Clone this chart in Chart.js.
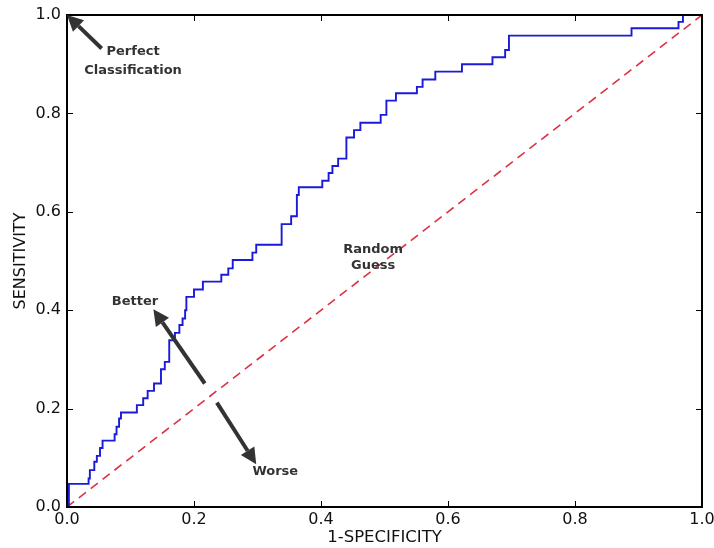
<!DOCTYPE html>
<html>
<head>
<meta charset="utf-8">
<script src="https://cdn.jsdelivr.net/npm/chart.js@4.4.1/dist/chart.umd.min.js"></script>
<style>
  body { margin: 0; background: #fff; }
</style>
</head>
<body>
<canvas id="roc" width="714" height="548"></canvas>
<script>
// ROC curve corners: x where the curve rises, y after the rise
const fpr = [0, 0.003, 0.034, 0.036, 0.043, 0.047, 0.052, 0.056, 0.075, 0.078, 0.082, 0.085,
  0.110, 0.120, 0.127, 0.137, 0.148, 0.154, 0.161, 0.170, 0.177, 0.182, 0.186, 0.188,
  0.200, 0.214, 0.243, 0.254, 0.261, 0.292, 0.298, 0.338, 0.353, 0.362, 0.365, 0.402,
  0.412, 0.418, 0.427, 0.440, 0.452, 0.462, 0.494, 0.503, 0.518, 0.551, 0.560, 0.580,
  0.622, 0.670, 0.690, 0.696, 0.889, 0.963, 0.970, 1.0];
const tpr = [0, 0.047, 0.058, 0.075, 0.092, 0.104, 0.120, 0.135, 0.148, 0.163, 0.180, 0.192,
  0.207, 0.221, 0.236, 0.251, 0.280, 0.295, 0.339, 0.354, 0.370, 0.383, 0.400, 0.427,
  0.442, 0.458, 0.472, 0.485, 0.502, 0.517, 0.533, 0.575, 0.591, 0.634, 0.650, 0.663,
  0.679, 0.693, 0.708, 0.751, 0.766, 0.781, 0.797, 0.826, 0.841, 0.854, 0.869, 0.885,
  0.900, 0.914, 0.929, 0.958, 0.973, 0.986, 1.0, 1.0];

const guessX = [0, 1];
const guessY = [0, 1];

const tickValues = [0, 0.2, 0.4, 0.6, 0.8, 1.0];

const noteTexts = ['Perfect', 'Classification', 'Random', 'Guess', 'Better', 'Worse'];
const noteX = [0.104, 0.104, 0.482, 0.482, 0.107, 0.328];
const noteY = [0.925, 0.886, 0.524, 0.490, 0.418, 0.071];

// arrows: tail -> tip in data units
const arrowFromX = [0.0546, 0.217, 0.236];
const arrowFromY = [0.932, 0.251, 0.212];
const arrowToX = [0, 0.136, 0.298];
const arrowToY = [1, 0.402, 0.087];

const ink = '#333333';

function toPoints(xs, ys) {
  return xs.map((x, i) => ({ x: x, y: ys[i] }));
}

const framePlugin = {
  id: 'frame',
  afterDatasetsDraw(chart) {
    const ctx = chart.ctx;
    const a = chart.chartArea;
    const xs = chart.scales.x, ys = chart.scales.y;
    ctx.save();
    // inward tick marks on all four sides
    ctx.strokeStyle = '#000';
    ctx.lineWidth = 1;
    tickValues.forEach((v) => {
      const px = Math.round(xs.getPixelForValue(v)) + 0.5;
      const py = Math.round(ys.getPixelForValue(v)) + 0.5;
      ctx.beginPath();
      ctx.moveTo(px, a.bottom); ctx.lineTo(px, a.bottom - 6);
      ctx.moveTo(px, a.top); ctx.lineTo(px, a.top + 6);
      ctx.moveTo(a.left, py); ctx.lineTo(a.left + 6, py);
      ctx.moveTo(a.right, py); ctx.lineTo(a.right - 6, py);
      ctx.stroke();
    });
    ctx.lineWidth = 2;
    ctx.strokeRect(a.left, a.top, a.right - a.left, a.bottom - a.top);

    // arrows
    ctx.strokeStyle = ink;
    ctx.fillStyle = ink;
    arrowFromX.forEach((fx, i) => {
      const x0 = xs.getPixelForValue(fx), y0 = ys.getPixelForValue(arrowFromY[i]);
      const x1 = xs.getPixelForValue(arrowToX[i]), y1 = ys.getPixelForValue(arrowToY[i]);
      const ang = Math.atan2(y1 - y0, x1 - x0);
      const head = 16, half = 8;
      const bx = x1 - head * Math.cos(ang), by = y1 - head * Math.sin(ang);
      ctx.lineWidth = 4;
      ctx.beginPath();
      ctx.moveTo(x0, y0);
      ctx.lineTo(bx, by);
      ctx.stroke();
      ctx.beginPath();
      ctx.moveTo(x1, y1);
      ctx.lineTo(bx + half * Math.sin(ang), by - half * Math.cos(ang));
      ctx.lineTo(bx - half * Math.sin(ang), by + half * Math.cos(ang));
      ctx.closePath();
      ctx.fill();
    });

    // labels
    ctx.font = 'bold 13px "DejaVu Sans"';
    ctx.textAlign = 'center';
    ctx.textBaseline = 'middle';
    noteTexts.forEach((t, i) => {
      ctx.fillText(t, xs.getPixelForValue(noteX[i]), ys.getPixelForValue(noteY[i]));
    });
    ctx.restore();
  }
};

const tickFont = { family: 'DejaVu Sans', size: 16 };

new Chart(document.getElementById('roc'), {
  type: 'line',
  data: {
    datasets: [
      {
        label: 'ROC',
        data: toPoints(fpr, tpr),
        borderColor: '#1a1ad8',
        borderWidth: 1.9,
        stepped: 'before',
        pointRadius: 0,
        fill: false,
      },
      {
        label: 'Random guess',
        data: toPoints(guessX, guessY),
        borderColor: '#dd3344',
        borderWidth: 1.6,
        borderDash: [9, 6],
        pointRadius: 0,
        fill: false,
      },
    ],
  },
  options: {
    responsive: false,
    animation: false,
    layout: { padding: { top: 15, right: 12, left: 0, bottom: 0 } },
    plugins: {
      legend: { display: false },
      tooltip: { enabled: false },
    },
    scales: {
      x: {
        type: 'linear',
        min: 0,
        max: 1,
        grid: { display: false, drawTicks: false },
        border: { display: false },
        afterBuildTicks: (s) => { s.ticks = tickValues.map((v) => ({ value: v })); },
        afterFit: (s) => { s.height = 41; s.paddingLeft = 0; s.paddingRight = 0; },
        ticks: {
          color: '#111',
          font: tickFont,
          padding: 3,
          maxRotation: 0,
          callback: (v) => v.toFixed(1),
        },
        title: {
          display: true,
          text: '1-SPECIFICITY',
          color: '#111',
          font: { family: 'DejaVu Sans', size: 16.5 },
          padding: { top: 0, bottom: 0 },
        },
      },
      y: {
        type: 'linear',
        min: 0,
        max: 1,
        grid: { display: false, drawTicks: false },
        border: { display: false },
        afterBuildTicks: (s) => { s.ticks = tickValues.map((v) => ({ value: v })); },
        afterFit: (s) => { s.width = 67; s.paddingTop = 0; s.paddingBottom = 0; },
        ticks: {
          color: '#111',
          font: tickFont,
          padding: 6,
          callback: (v) => v.toFixed(1),
        },
        title: {
          display: true,
          text: 'SENSITIVITY',
          color: '#111',
          font: { family: 'DejaVu Sans', size: 16 },
          padding: { top: 11, bottom: 0 },
        },
      },
    },
  },
  plugins: [framePlugin],
});
</script>
</body>
</html>
